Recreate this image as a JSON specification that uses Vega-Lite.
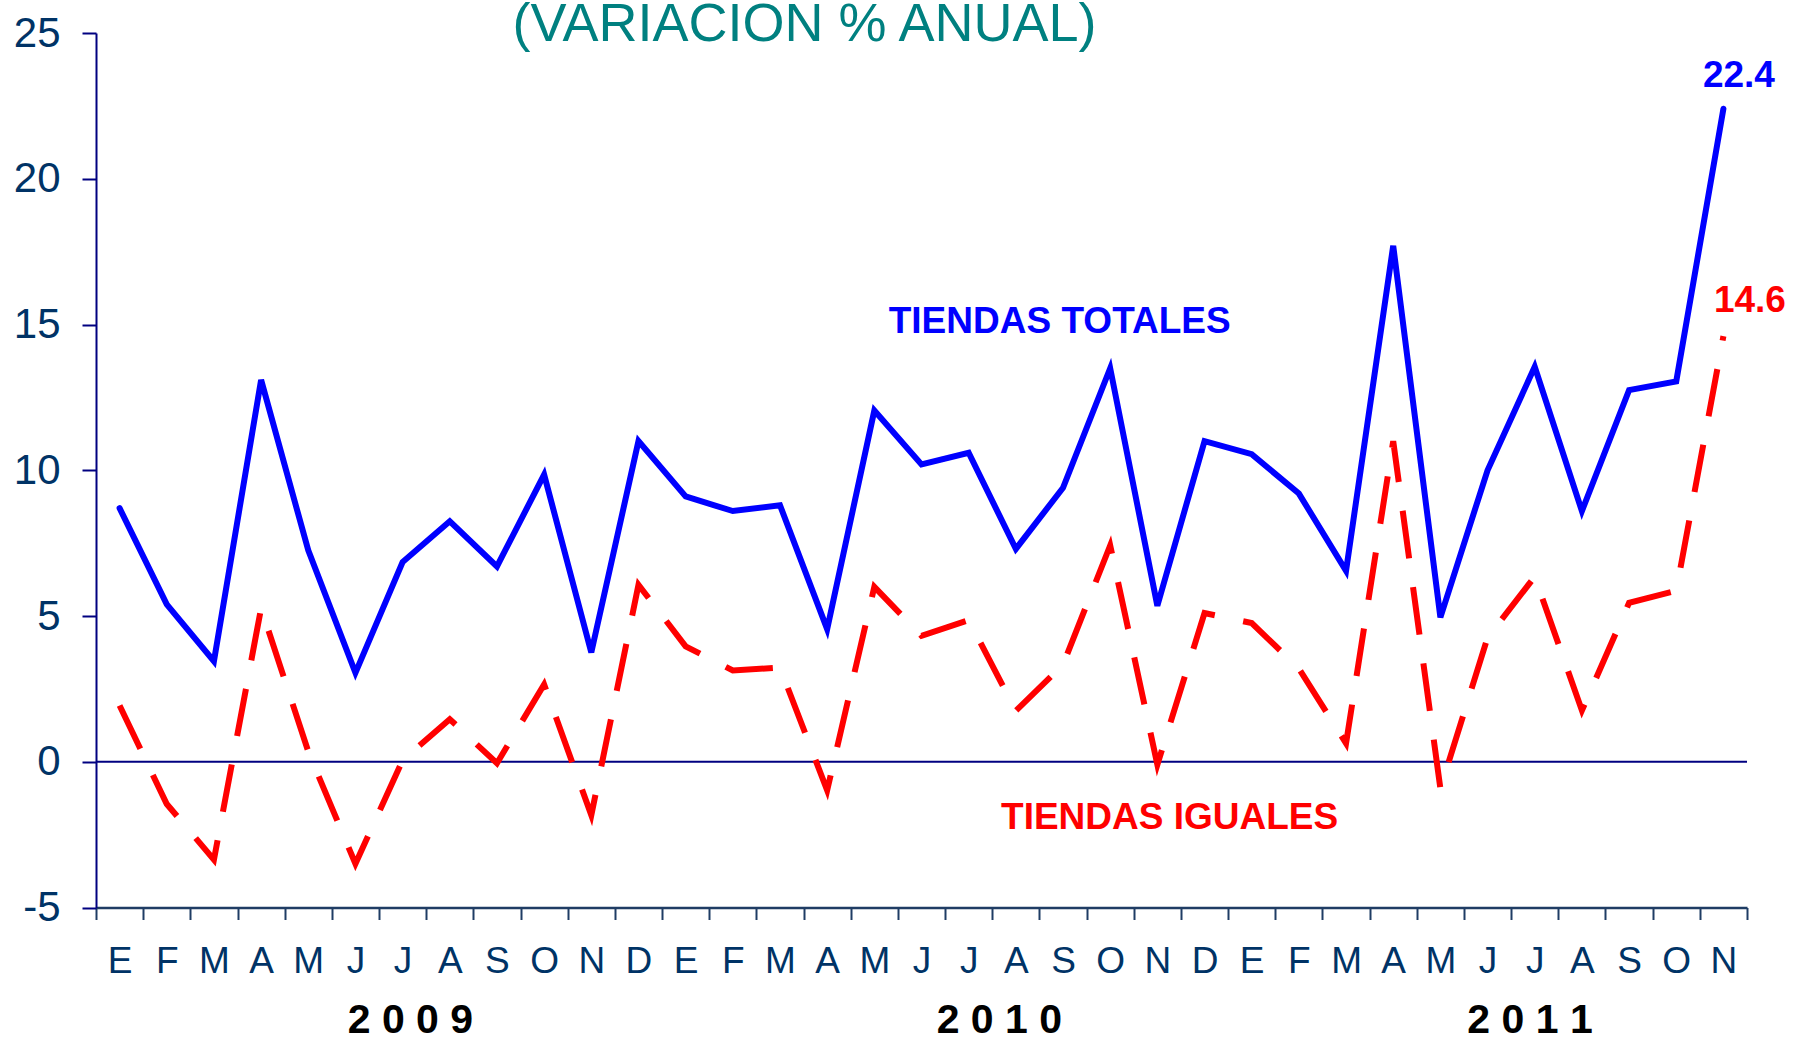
{
  "$schema": "https://vega.github.io/schema/vega-lite/v6.json",
  "width": 1651,
  "height": 874.5,
  "autosize": {"type": "none"},
  "padding": {"left": 96, "top": 33, "right": 47, "bottom": 131.5},
  "background": "white",
  "config": {
    "view": {"stroke": null},
    "font": "Liberation Sans",
    "text": {"font": "Liberation Sans"}
  },
  "datasets": {
    "ventas": [
      {"mes": "2009-01", "serie": "TOTALES", "valor": 8.7},
      {"mes": "2009-02", "serie": "TOTALES", "valor": 5.4},
      {"mes": "2009-03", "serie": "TOTALES", "valor": 3.45},
      {"mes": "2009-04", "serie": "TOTALES", "valor": 13.1},
      {"mes": "2009-05", "serie": "TOTALES", "valor": 7.25},
      {"mes": "2009-06", "serie": "TOTALES", "valor": 3.05},
      {"mes": "2009-07", "serie": "TOTALES", "valor": 6.85},
      {"mes": "2009-08", "serie": "TOTALES", "valor": 8.25},
      {"mes": "2009-09", "serie": "TOTALES", "valor": 6.7},
      {"mes": "2009-10", "serie": "TOTALES", "valor": 9.85},
      {"mes": "2009-11", "serie": "TOTALES", "valor": 3.75},
      {"mes": "2009-12", "serie": "TOTALES", "valor": 11.0},
      {"mes": "2010-01", "serie": "TOTALES", "valor": 9.1},
      {"mes": "2010-02", "serie": "TOTALES", "valor": 8.6},
      {"mes": "2010-03", "serie": "TOTALES", "valor": 8.8},
      {"mes": "2010-04", "serie": "TOTALES", "valor": 4.55},
      {"mes": "2010-05", "serie": "TOTALES", "valor": 12.05},
      {"mes": "2010-06", "serie": "TOTALES", "valor": 10.2},
      {"mes": "2010-07", "serie": "TOTALES", "valor": 10.6},
      {"mes": "2010-08", "serie": "TOTALES", "valor": 7.3},
      {"mes": "2010-09", "serie": "TOTALES", "valor": 9.4},
      {"mes": "2010-10", "serie": "TOTALES", "valor": 13.5},
      {"mes": "2010-11", "serie": "TOTALES", "valor": 5.35},
      {"mes": "2010-12", "serie": "TOTALES", "valor": 11.0},
      {"mes": "2011-01", "serie": "TOTALES", "valor": 10.55},
      {"mes": "2011-02", "serie": "TOTALES", "valor": 9.2},
      {"mes": "2011-03", "serie": "TOTALES", "valor": 6.55},
      {"mes": "2011-04", "serie": "TOTALES", "valor": 17.7},
      {"mes": "2011-05", "serie": "TOTALES", "valor": 4.95},
      {"mes": "2011-06", "serie": "TOTALES", "valor": 10.0},
      {"mes": "2011-07", "serie": "TOTALES", "valor": 13.55},
      {"mes": "2011-08", "serie": "TOTALES", "valor": 8.6},
      {"mes": "2011-09", "serie": "TOTALES", "valor": 12.75},
      {"mes": "2011-10", "serie": "TOTALES", "valor": 13.05},
      {"mes": "2011-11", "serie": "TOTALES", "valor": 22.4},
      {"mes": "2009-01", "serie": "IGUALES", "valor": 1.93},
      {"mes": "2009-02", "serie": "IGUALES", "valor": -1.45},
      {"mes": "2009-03", "serie": "IGUALES", "valor": -3.36},
      {"mes": "2009-04", "serie": "IGUALES", "valor": 5.27},
      {"mes": "2009-05", "serie": "IGUALES", "valor": 0.35},
      {"mes": "2009-06", "serie": "IGUALES", "valor": -3.5},
      {"mes": "2009-07", "serie": "IGUALES", "valor": 0.05},
      {"mes": "2009-08", "serie": "IGUALES", "valor": 1.46},
      {"mes": "2009-09", "serie": "IGUALES", "valor": -0.05},
      {"mes": "2009-10", "serie": "IGUALES", "valor": 2.65},
      {"mes": "2009-11", "serie": "IGUALES", "valor": -1.83},
      {"mes": "2009-12", "serie": "IGUALES", "valor": 6.07},
      {"mes": "2010-01", "serie": "IGUALES", "valor": 3.96},
      {"mes": "2010-02", "serie": "IGUALES", "valor": 3.13},
      {"mes": "2010-03", "serie": "IGUALES", "valor": 3.23},
      {"mes": "2010-04", "serie": "IGUALES", "valor": -0.98},
      {"mes": "2010-05", "serie": "IGUALES", "valor": 6.0},
      {"mes": "2010-06", "serie": "IGUALES", "valor": 4.32},
      {"mes": "2010-07", "serie": "IGUALES", "valor": 4.86},
      {"mes": "2010-08", "serie": "IGUALES", "valor": 1.75},
      {"mes": "2010-09", "serie": "IGUALES", "valor": 3.33},
      {"mes": "2010-10", "serie": "IGUALES", "valor": 7.42},
      {"mes": "2010-11", "serie": "IGUALES", "valor": -0.1},
      {"mes": "2010-12", "serie": "IGUALES", "valor": 5.1},
      {"mes": "2011-01", "serie": "IGUALES", "valor": 4.76},
      {"mes": "2011-02", "serie": "IGUALES", "valor": 3.2},
      {"mes": "2011-03", "serie": "IGUALES", "valor": 0.63},
      {"mes": "2011-04", "serie": "IGUALES", "valor": 11.0},
      {"mes": "2011-05", "serie": "IGUALES", "valor": -0.92},
      {"mes": "2011-06", "serie": "IGUALES", "valor": 4.26},
      {"mes": "2011-07", "serie": "IGUALES", "valor": 6.35},
      {"mes": "2011-08", "serie": "IGUALES", "valor": 1.76},
      {"mes": "2011-09", "serie": "IGUALES", "valor": 5.45},
      {"mes": "2011-10", "serie": "IGUALES", "valor": 5.87},
      {"mes": "2011-11", "serie": "IGUALES", "valor": 14.6}
    ]
  },
  "data": {"name": "ventas"},
  "encoding": {
    "x": {
      "field": "mes",
      "type": "ordinal",
      "bandPosition": 0.5,
      "scale": {"type": "band", "paddingInner": 0, "paddingOuter": 0},
      "axis": {
        "title": null,
        "orient": "bottom",
        "tickBand": "extent",
        "labelAngle": 0,
        "labelExpr": "substring('EFMAMJJASOND', toNumber(substring(datum.value, 5, 7)) - 1, toNumber(substring(datum.value, 5, 7)))",
        "labelFont": "Liberation Sans",
        "labelFontSize": 37,
        "labelColor": "#003366",
        "labelPadding": 24,
        "tickSize": 12,
        "tickWidth": 2,
        "tickColor": "#1F3C64",
        "domainColor": "#1F3C64",
        "domainWidth": 2.5,
        "grid": false
      }
    },
    "y": {
      "field": "valor",
      "type": "quantitative",
      "scale": {"domain": [-5, 25], "nice": false, "zero": false},
      "axis": {
        "title": null,
        "values": [-5, 0, 5, 10, 15, 20, 25],
        "labelExpr": "'' + datum.value",
        "labelFont": "Liberation Sans",
        "labelFontSize": 42,
        "labelColor": "#003366",
        "labelPadding": 22,
        "tickSize": 14,
        "tickWidth": 2,
        "tickColor": "#000080",
        "domainColor": "#000080",
        "domainWidth": 2,
        "grid": false
      }
    }
  },
  "layer": [
    {
      "transform": [{"filter": "datum.serie === 'TOTALES' && datum.mes === '2009-01'"}],
      "mark": {"type": "rule", "color": "#000080", "strokeWidth": 2},
      "encoding": {"x": null, "y": {"datum": 0, "type": "quantitative"}}
    },
    {
      "transform": [{"filter": "datum.serie === 'IGUALES'"}],
      "mark": {"type": "line", "color": "#FF0000", "strokeWidth": 6, "strokeDash": [48, 29], "strokeCap": "butt"}
    },
    {
      "transform": [{"filter": "datum.serie === 'TOTALES'"}],
      "mark": {"type": "line", "color": "#0000FF", "strokeWidth": 6, "strokeCap": "round"}
    },
    {
      "transform": [{"filter": "datum.serie === 'TOTALES' && datum.mes === '2011-11'"}],
      "mark": {"type": "text", "color": "#0000FF", "fontSize": 37, "fontWeight": "bold", "align": "center", "baseline": "alphabetic", "dx": 15.5, "dy": -21.6},
      "encoding": {"text": {"field": "valor", "type": "quantitative", "format": ".1f"}}
    },
    {
      "transform": [{"filter": "datum.serie === 'IGUALES' && datum.mes === '2011-11'"}],
      "mark": {"type": "text", "color": "#FF0000", "fontSize": 37, "fontWeight": "bold", "align": "center", "baseline": "alphabetic", "dx": 26.5, "dy": -24},
      "encoding": {"text": {"field": "valor", "type": "quantitative", "format": ".1f"}}
    },
    {
      "transform": [{"filter": "datum.serie === 'TOTALES' && datum.mes === '2009-01'"}],
      "mark": {"type": "text", "text": "TIENDAS TOTALES", "color": "#0000FF", "fontSize": 37, "fontWeight": "bold", "align": "center", "baseline": "alphabetic"},
      "encoding": {
        "x": {"datum": "2010-09", "type": "ordinal", "bandPosition": 0.43},
        "y": {"datum": 14.7, "type": "quantitative"}
      }
    },
    {
      "transform": [{"filter": "datum.serie === 'TOTALES' && datum.mes === '2009-01'"}],
      "mark": {"type": "text", "text": "TIENDAS IGUALES", "color": "#FF0000", "fontSize": 37, "fontWeight": "bold", "align": "center", "baseline": "alphabetic"},
      "encoding": {
        "x": {"datum": "2010-11", "type": "ordinal", "bandPosition": 0.76},
        "y": {"datum": -2.31, "type": "quantitative"}
      }
    },
    {
      "transform": [{"filter": "datum.serie === 'TOTALES' && datum.mes === '2009-01'"}],
      "mark": {"type": "text", "text": "(VARIACION % ANUAL)", "color": "#008080", "fontSize": 54, "align": "center", "baseline": "alphabetic"},
      "encoding": {
        "x": {"datum": "2010-04", "type": "ordinal", "bandPosition": 0.02},
        "y": {"datum": 24.73, "type": "quantitative"}
      }
    },
    {
      "transform": [{"filter": "datum.serie === 'TOTALES' && datum.mes === '2009-01'"}],
      "mark": {"type": "text", "text": "2 0 0 9", "color": "#000000", "fontSize": 41, "fontWeight": "bold", "align": "center", "baseline": "alphabetic"},
      "encoding": {
        "x": {"datum": "2009-07", "type": "ordinal", "bandPosition": 0.665},
        "y": {"datum": -9.32, "type": "quantitative"}
      }
    },
    {
      "transform": [{"filter": "datum.serie === 'TOTALES' && datum.mes === '2009-01'"}],
      "mark": {"type": "text", "text": "2 0 1 0", "color": "#000000", "fontSize": 41, "fontWeight": "bold", "align": "center", "baseline": "alphabetic"},
      "encoding": {
        "x": {"datum": "2010-08", "type": "ordinal", "bandPosition": 0.15},
        "y": {"datum": -9.32, "type": "quantitative"}
      }
    },
    {
      "transform": [{"filter": "datum.serie === 'TOTALES' && datum.mes === '2009-01'"}],
      "mark": {"type": "text", "text": "2 0 1 1", "color": "#000000", "fontSize": 41, "fontWeight": "bold", "align": "center", "baseline": "alphabetic"},
      "encoding": {
        "x": {"datum": "2011-07", "type": "ordinal", "bandPosition": 0.4},
        "y": {"datum": -9.32, "type": "quantitative"}
      }
    }
  ]
}
